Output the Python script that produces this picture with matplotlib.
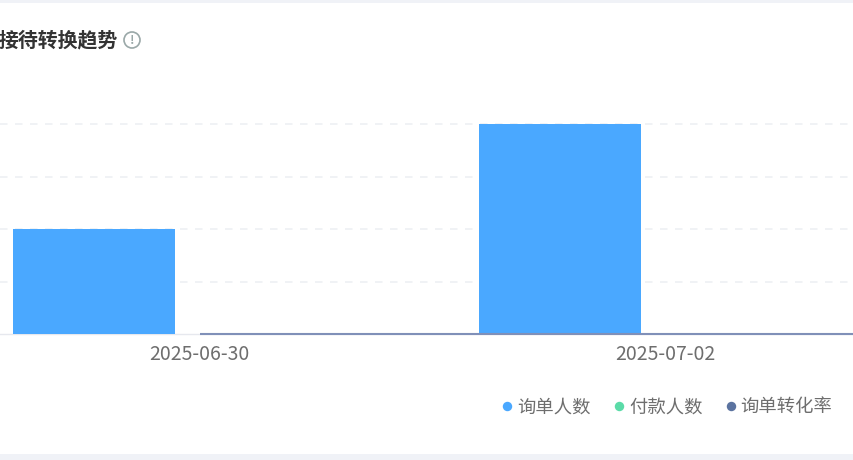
import matplotlib
matplotlib.use("Agg")
import matplotlib.pyplot as plt
import numpy as np
from matplotlib.lines import Line2D
from matplotlib.patches import Rectangle, Circle

plt.rcParams['font.family'] = ['Noto Sans CJK SC', 'DejaVu Sans']

# Data (the last category lies beyond the visible crop)
categories = ['2025-06-30', '2025-07-02', '']
inquiry_people = [2, 4, 0]
paying_people = [0, 0, 0]
inquiry_rate = [0, 0, 0]
series_names = ['询单人数', '付款人数', '询单转化率']
yticks = [1, 2, 3, 4]
title = '接待转换趋势'

W, H = 853, 460
BLUE, GREEN, NAVY = '#4AA8FF', '#5BDBA8', '#5B73A0'

fig = plt.figure(figsize=((W + 0.01) / 100, (H + 0.01) / 100), dpi=100, facecolor='white')
ax = fig.add_axes([0, (H - 334.4) / H, 1, (334.4 - 124.4) / H])

x = np.arange(len(categories))
step = 466
bar_w = 162 / step
offset = 105.5 / step

ax.bar(x - offset, inquiry_people, bar_w, color=BLUE, zorder=3)
ax.bar(x + offset, paying_people, bar_w, color=GREEN, zorder=3)
ax.plot(x, inquiry_rate, color='#8090B8', lw=1.5, zorder=4, clip_on=False,
        solid_capstyle='butt')

ax.set_xlim(-199.6 / step, (W - 199.6) / step)
ax.set_ylim(0, 4)
ax.set_yticks(yticks)
ax.set_xticks(x[:2], categories[:2])
ax.tick_params(axis='y', length=0, labelleft=False)
ax.tick_params(axis='x', length=0, pad=7.2, labelsize=14, labelcolor='#6E6E6E')
for s in ['top', 'left', 'right']:
    ax.spines[s].set_visible(False)
ax.spines['bottom'].set_color('#E6E8EE')
ax.spines['bottom'].set_linewidth(1.0)
ax.grid(axis='y', color='#EEF0F3', lw=1.2, ls=(0, (4.5, 4.5)), zorder=0)
ax.set_axisbelow(True)
for gl in ax.get_ygridlines():
    gl.set_clip_on(False)

# page strips
for y0, h in [(0, 3), (454, 6)]:
    fig.add_artist(Rectangle((0, 1 - (y0 + h) / H), 1, h / H, transform=fig.transFigure,
                             facecolor='#F0F2F7', edgecolor='none'))

fig.text(117.6 / W, 1 - 40 / H, title, ha='right', va='center', fontsize=14.3,
         fontweight='bold', color='#333333')

# info icon
fig.add_artist(Circle((132, H - 40), 8, transform=None, facecolor='white',
                      edgecolor='#9AA8A8', lw=1.2))
fig.text(132 / W, 1 - 40 / H, '!', ha='center', va='center', fontsize=9, color='#9AA8A8',
         fontweight='bold')

handles = [Line2D([], [], ls='none', marker='o', ms=6.8, mec='none', color=c)
           for c in (BLUE, GREEN, NAVY)]
leg = fig.legend(handles, series_names, ncols=3, loc='center right',
                 bbox_to_anchor=(832.5 / W, 1 - 407.3 / H), frameon=False,
                 fontsize=13.2, labelcolor='#6E6E6E', handletextpad=-0.1,
                 columnspacing=0.88, borderpad=0, borderaxespad=0, handlelength=1.3)

fig.savefig('out.png', dpi=100, facecolor='white')
